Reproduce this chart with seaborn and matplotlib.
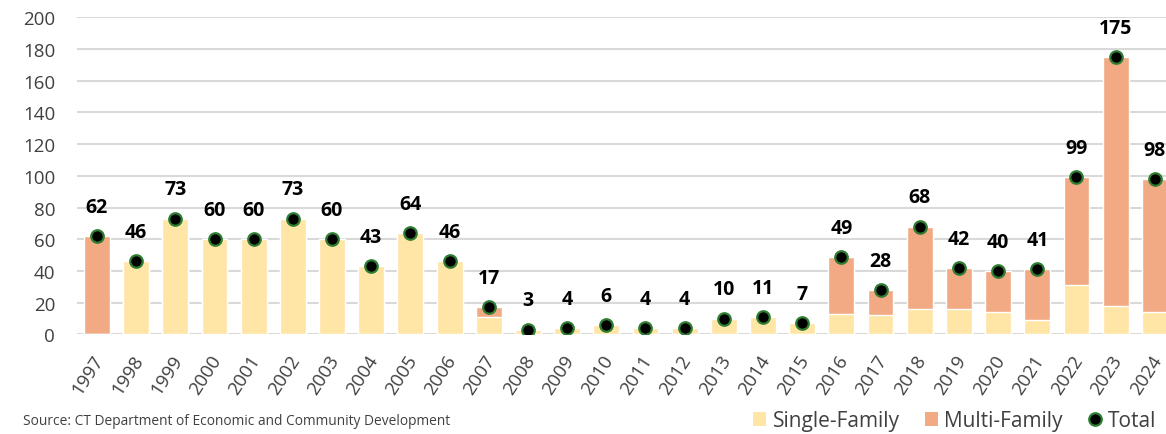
import matplotlib
matplotlib.use("Agg")
import matplotlib.pyplot as plt
import matplotlib.transforms as mtransforms
from matplotlib.lines import Line2D
from matplotlib.patches import Patch
import pandas as pd
import seaborn as sns

sns.set_theme(style="whitegrid")
plt.rcParams["font.family"] = ["Open Sans", "DejaVu Sans"]

YEARS = [str(y) for y in range(1997, 2025)]
TOTAL = [62, 46, 73, 60, 60, 73, 60, 43, 64, 46, 17, 3, 4, 6, 4, 4, 10, 11, 7,
         49, 28, 68, 42, 40, 41, 99, 175, 98]
SINGLE = [0, 46, 73, 60, 60, 73, 60, 43, 64, 46, 11, 3, 4, 6, 4, 4, 10, 11, 7,
          13, 12, 16, 16, 14, 9, 31, 18, 14]
MULTI = [62, 0, 0, 0, 0, 0, 0, 0, 0, 0, 6, 0, 0, 0, 0, 0, 0, 0, 0,
         36, 16, 52, 26, 26, 32, 68, 157, 84]
Y_TICKS = list(range(0, 201, 20))

C_SINGLE = "#FFE6A6"
C_MULTI = "#F1AA84"
C_DOT_EDGE = "#2E7D32"
C_TEXT = "#404040"

df = pd.DataFrame({"Year": YEARS, "Single": SINGLE, "Multi": MULTI, "Total": TOTAL})
df["Stack"] = df["Single"] + df["Multi"]

fig = plt.figure(figsize=(11.66, 4.35), dpi=100)
ax = fig.add_axes([77.4 / 1166, 0.229, 1097 / 1166, 0.729])

# stacked bars: full stack in multi colour, single-family drawn over from zero
sns.barplot(data=df, x="Year", y="Stack", color=C_MULTI, width=0.66,
            saturation=1, ax=ax, zorder=2)
sns.barplot(data=df, x="Year", y="Single", color=C_SINGLE, width=0.66,
            saturation=1, ax=ax, zorder=3)
sns.pointplot(data=df, x="Year", y="Total", color="black", linestyle="none",
              marker="o", markersize=9, markeredgecolor=C_DOT_EDGE,
              markeredgewidth=1.6, ax=ax, zorder=5)

for i, v in enumerate(df["Total"]):
    ax.annotate(str(v), (i, v), xytext=(0, 21), textcoords="offset points",
                ha="center", va="center", fontsize=14, fontweight="bold",
                color="black")

ax.set_xlim(-0.5, len(YEARS) - 0.5)
ax.set_ylim(0, 200)
ax.set_yticks(Y_TICKS)
ax.set_xlabel("")
ax.set_ylabel("")
ax.grid(axis="y", color="#D9D9D9", linewidth=1.5)
ax.grid(axis="x", visible=False)
for s in ax.spines.values():
    s.set_visible(False)
ax.set_facecolor("white")
ax.tick_params(axis="y", length=0, pad=16, labelsize=13.5, labelcolor=C_TEXT)
ax.tick_params(axis="x", length=0, pad=16, labelsize=13.5, labelcolor=C_TEXT)
shift = mtransforms.ScaledTranslation(3 / 100, 0, fig.dpi_scale_trans)
for lab in ax.get_xticklabels():
    lab.set_rotation(57)
    lab.set_ha("right")
    lab.set_va("center")
    lab.set_rotation_mode("anchor")
    lab.set_transform(lab.get_transform() + shift)

handles = [
    Patch(facecolor=C_SINGLE, edgecolor="none", label="Single-Family"),
    Patch(facecolor=C_MULTI, edgecolor="none", label="Multi-Family"),
    Line2D([], [], linestyle="none", marker="o", markersize=9, color="black",
           markeredgecolor=C_DOT_EDGE, markeredgewidth=1.6, label="Total"),
]
fig.legend(handles=handles, loc="center right", bbox_to_anchor=(1156 / 1166, 13 / 435),
           ncol=3, frameon=False, fontsize=15, handlelength=0.65, handleheight=0.65,
           handletextpad=0.3, columnspacing=1.2, borderpad=0, borderaxespad=0,
           labelcolor=C_TEXT)

fig.text(23 / 1166, 13 / 435, "Source: CT Department of Economic and Community Development",
         fontsize=9.9, color=C_TEXT, ha="left", va="center")

fig.savefig("out.png", dpi=100, facecolor="white")
